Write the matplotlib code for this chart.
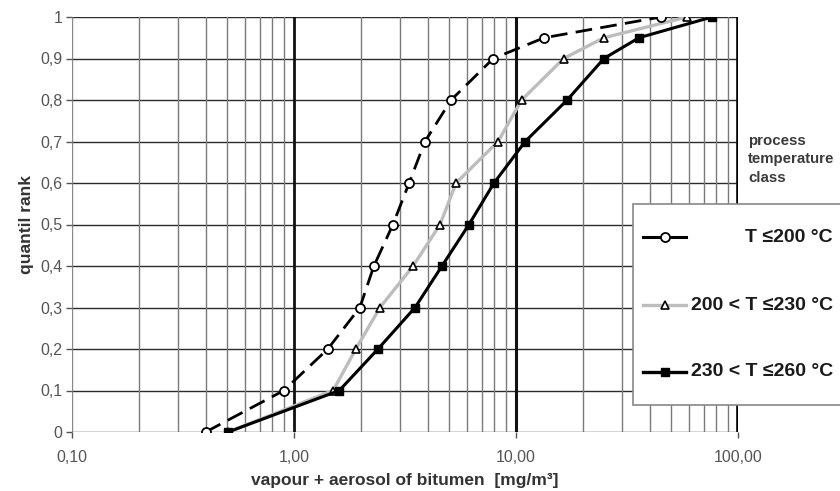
import matplotlib
matplotlib.use("Agg")
import matplotlib.pyplot as plt
from matplotlib.lines import Line2D
from matplotlib.patches import Rectangle
import numpy as np

plt.rcParams['font.family'] = ['Liberation Sans', 'DejaVu Sans']

# ---- data ----
quantiles_1 = [0.0, 0.1, 0.2, 0.3, 0.4, 0.5, 0.6, 0.7, 0.8, 0.9, 0.95, 1.0]
conc_1 = [0.40, 0.90, 1.42, 1.98, 2.29, 2.79, 3.30, 3.89, 5.1, 7.9, 13.4, 45.0]

quantiles_2 = [0.0, 0.1, 0.2, 0.3, 0.4, 0.5, 0.6, 0.7, 0.8, 0.9, 0.95, 1.0]
conc_2 = [0.505, 1.50, 1.90, 2.44, 3.44, 4.55, 5.37, 8.3, 10.6, 16.4, 24.9, 58.9]

quantiles_3 = [0.0, 0.1, 0.2, 0.3, 0.4, 0.5, 0.6, 0.7, 0.8, 0.9, 0.95, 1.0]
conc_3 = [0.505, 1.60, 2.39, 3.51, 4.64, 6.14, 7.96, 11.0, 17.0, 24.9, 35.8, 76.4]

labels = ["T \u2264200 \u00b0C", "200 < T \u2264230 \u00b0C", "230 < T \u2264260 \u00b0C"]
x_ticks = [0.1, 1, 10, 100]
x_tick_labels = ["0,10", "1,00", "10,00", "100,00"]
y_ticks = [0, 0.1, 0.2, 0.3, 0.4, 0.5, 0.6, 0.7, 0.8, 0.9, 1.0]
y_tick_labels = ["0", "0,1", "0,2", "0,3", "0,4", "0,5", "0,6", "0,7", "0,8", "0,9", "1"]

W, H = 840, 491
fig = plt.figure(figsize=(W / 100, H / 100), dpi=100)
ax = fig.add_axes([72 / W, 1 - 432 / H, (738 - 72) / W, (432 - 17) / H])
ax.set_xscale('log')
ax.set_xlim(0.1, 100)
ax.set_ylim(0, 1)

for s in ax.spines.values():
    s.set_visible(False)

# grid lines
for yv in y_ticks:
    ax.axhline(yv, color='#2a2a2a', lw=1.0, zorder=1)
minors = [m * 10.0 ** d for d in (-1, 0, 1) for m in range(2, 10)]
for xv in minors:
    ax.axvline(xv, color='#7a7a7a', lw=1.0, zorder=1)
ax.axvline(0.1, color='#8a8a8a', lw=1.0, zorder=1)
ax.axvline(1, color='#111111', lw=2.0, zorder=1)
ax.axvline(10, color='#111111', lw=2.2, zorder=1)
ax.axvline(100, color='#000000', lw=2.6, zorder=1)

# series
ax.plot(conc_2, quantiles_2, color='#bdbdbd', lw=2.4, marker='^', ms=5.5,
        mfc='white', mec='black', mew=1.2, zorder=3)
ax.plot(conc_3, quantiles_3, color='black', lw=2.2, marker='s', ms=6,
        mfc='black', mec='black', zorder=4)
ax.plot(conc_1, quantiles_1, color='black', lw=2.0, ls=(0, (6, 3)), marker='o', ms=6.5,
        mfc='white', mec='black', mew=1.3, zorder=5)

ax.set_xticks(x_ticks)
ax.set_xticklabels(x_tick_labels)
ax.xaxis.set_minor_locator(matplotlib.ticker.NullLocator())
ax.set_yticks(y_ticks)
ax.set_yticklabels(y_tick_labels)
ax.tick_params(axis='both', which='major', direction='out', length=4, width=1,
               color='#555555', labelcolor='#555555', labelsize=11.5)
ax.tick_params(axis='x', pad=9)
ax.tick_params(axis='y', pad=3)

ax.set_xlabel("vapour + aerosol of bitumen  [mg/m\u00b3]", fontsize=12.5, fontweight='bold',
              color='#333333', labelpad=6)
ax.set_ylabel("quantil rank", fontsize=12.5, fontweight='bold', color='#333333', labelpad=4)

# side text
fig.text(748 / W, 1 - 134 / H, "process\ntemperature\nclass", fontsize=10.8, color='#3a3a3a',
         fontweight='bold', va='top', ha='left', linespacing=1.4)

# legend (manual box)
fx = lambda px: px / W
fy = lambda py: 1 - py / H
fig.patches.append(Rectangle((fx(633), fy(405)), fx(840) - fx(633) + 0.01, fy(204) - fy(405),
                             transform=fig.transFigure, facecolor='white', edgecolor='#888888',
                             lw=1.2, zorder=10))
handles = [
    dict(color='black', lw=2.2, marker='o', ms=6.5, mfc='white', mec='black', mew=1.3),
    dict(color='#bdbdbd', lw=2.4, marker='^', ms=5.5, mfc='white', mec='black', mew=1.2),
    dict(color='black', lw=2.4, marker='s', ms=6, mfc='black', mec='black'),
]
rows_y = [237, 305, 372]
for h, yy, lab in zip(handles, rows_y, labels):
    ln = Line2D([fx(643), fx(686)], [fy(yy), fy(yy)], transform=fig.transFigure,
                zorder=11, **{k: v for k, v in h.items() if k in ('color', 'lw')})
    fig.lines.append(ln)
    mk = Line2D([fx(664.5)], [fy(yy)], transform=fig.transFigure, ls='none', zorder=12,
                **{k: v for k, v in h.items() if k not in ('color', 'lw')})
    fig.lines.append(mk)
    fig.text(fx(833), fy(yy), lab, fontsize=14, fontweight='bold', color='#1a1a1a',
             ha='right', va='center', zorder=13)

fig.savefig("out.png", dpi=100, facecolor='white')
